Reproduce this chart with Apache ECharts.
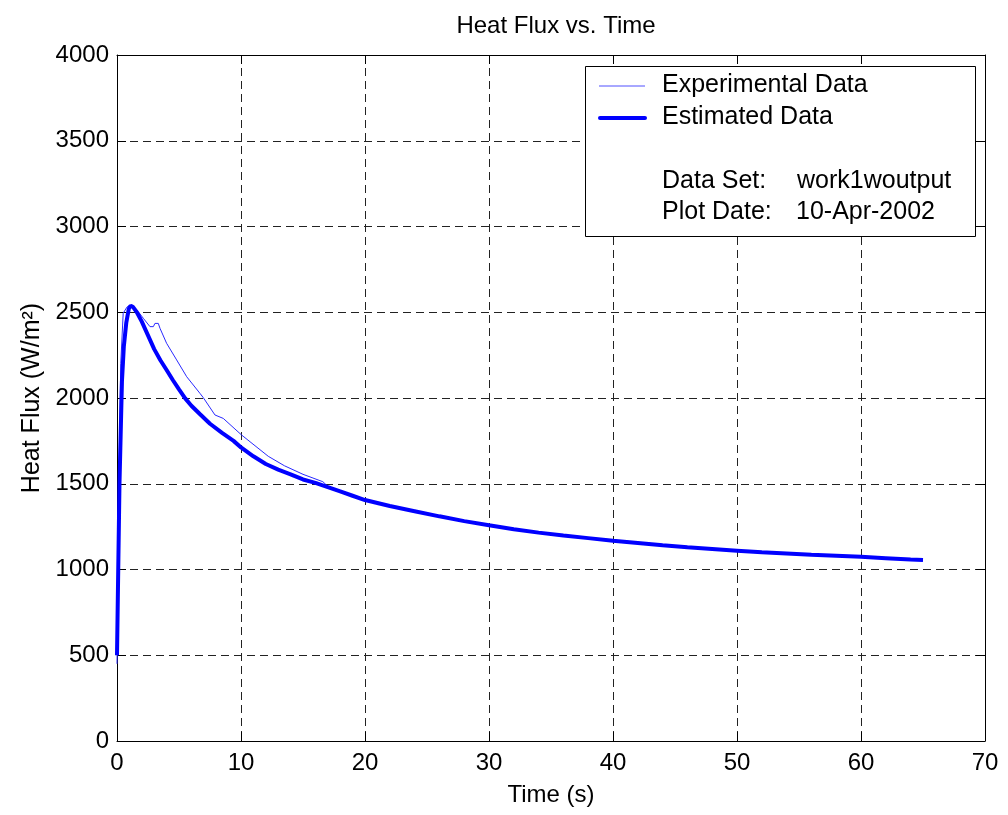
<!DOCTYPE html>
<html>
<head>
<meta charset="utf-8">
<script src="https://cdn.jsdelivr.net/npm/echarts@6/dist/echarts.min.js"></script>
<style>
  html, body { margin: 0; padding: 0; background: #fff; }
  #chart-container { width: 1008px; height: 815px; }
</style>
</head>
<body>
<div id="chart-container"></div>
<script>
// values
const expTime = [0, 0.15, 0.3, 0.5, 0.8, 1.05, 1.4, 1.72, 2.12, 2.66, 2.93, 3.06, 3.33, 3.47, 4.0, 4.81,
  5.62, 6.69, 6.96, 7.9, 8.57, 10.05, 12.2, 13.5, 15, 16.6, 17, 18, 20, 22, 24, 26, 28, 30, 35, 40, 45,
  50, 55, 60, 65];
const expFlux = [450, 1500, 2200, 2494, 2530, 2542, 2520, 2503, 2465, 2416, 2416, 2435, 2435, 2406, 2319, 2222,
  2124, 2027, 2002, 1901, 1881, 1784, 1660, 1605, 1555, 1512, 1485, 1458, 1408, 1372, 1338, 1312, 1280, 1256, 1205, 1170, 1135,
  1112, 1090, 1076, 1054];

const estTime = [0, 0.2, 0.4, 0.55, 0.75, 0.95, 1.1, 1.3, 1.6, 2.0, 2.5, 3.0, 3.5, 4.0, 4.5, 5.0, 5.5, 6.0,
  6.7, 7.5, 8.5, 9.4, 10, 11, 12, 13, 14, 15, 16, 17, 18, 19, 20, 22, 24, 26, 28, 30, 32, 34, 36, 38, 40,
  42, 44, 46, 48, 50, 52, 54, 56, 58, 60, 62, 64, 65];
const estFlux = [500, 1500, 2100, 2300, 2440, 2520, 2538, 2530, 2500, 2445, 2365, 2285, 2220, 2163, 2105, 2050, 1998, 1955,
  1905, 1850, 1795, 1750, 1712, 1660, 1615, 1582, 1555, 1525, 1505, 1480, 1455, 1430, 1405, 1370, 1340, 1310, 1282, 1258, 1235, 1215, 1198, 1183, 1168,
  1155, 1142, 1130, 1120, 1110, 1100, 1093, 1086, 1080, 1074, 1066, 1058, 1055];

const seriesNames = ['Experimental Data', 'Estimated Data'];
const dataSetName = 'work1woutput';
const plotDate = '10-Apr-2002';

const FONT = '"Liberation Sans", Arial, sans-serif';
const EXP_COLOR = '#2a2aff';
const EST_COLOR = '#0000ff';

const pairs = (xs, ys) => xs.map((x, i) => [x, ys[i]]);

const initChart = () => {
  const dom = document.getElementById('chart-container');
  return echarts.init(dom, null, { renderer: 'canvas' });
};

const gridDash = { type: [8, 5], color: '#222', width: 1 };

const baseX = {
  type: 'value', min: 0, max: 70, interval: 10,
  axisLine: { show: true, onZero: false, lineStyle: { color: '#000', width: 1 } },
  axisTick: { show: true, inside: true, length: 9, lineStyle: { color: '#000' } },
};
const baseY = {
  type: 'value', min: 0, max: 4000, interval: 500,
  axisLine: { show: true, onZero: false, lineStyle: { color: '#000', width: 1 } },
  axisTick: { show: true, inside: true, length: 9, lineStyle: { color: '#000' } },
};

// legend box drawn by hand (MATLAB style, with the extra info lines)
const legendText = (text, left, y) => ({
  type: 'text', z: 51, left: left, top: y - 13,
  style: { text: text, font: '25px ' + FONT, fill: '#000' },
});
const legendGraphics = [
  {
    type: 'rect', z: 50,
    shape: { x: 585.5, y: 66.5, width: 390, height: 170 },
    style: { fill: '#fff', stroke: '#000', lineWidth: 1 },
  },
  {
    type: 'line', z: 51,
    shape: { x1: 599, y1: 86, x2: 645, y2: 86 },
    style: { stroke: '#5050ff', lineWidth: 1 },
  },
  {
    type: 'line', z: 51,
    shape: { x1: 600, y1: 118, x2: 645, y2: 118 },
    style: { stroke: EST_COLOR, lineWidth: 4, lineCap: 'round' },
  },
  legendText(seriesNames[0], 662, 86),
  legendText(seriesNames[1], 662, 118),
  legendText('Data Set:', 662, 182),
  legendText(dataSetName, 797, 182),
  legendText('Plot Date:', 662, 213),
  legendText(plotDate, 796, 213),
];

const renderChart = (chart) => {
  chart.setOption({
    animation: false,
    backgroundColor: '#fff',
    textStyle: { fontFamily: FONT },
    title: {
      text: 'Heat Flux vs. Time',
      left: 551, top: 9, textAlign: 'center',
      textStyle: { fontFamily: FONT, fontSize: 24, fontWeight: 'normal', color: '#000' },
    },
    grid: { left: 117, right: 23, top: 55, bottom: 74, show: false },
    xAxis: [
      Object.assign({}, baseX, {
        position: 'bottom',
        name: 'Time (s)', nameLocation: 'middle', nameGap: 42,
        nameTextStyle: { fontFamily: FONT, fontSize: 24, color: '#000' },
        axisLabel: { fontFamily: FONT, fontSize: 24, color: '#000', margin: 10 },
        splitLine: { show: true, lineStyle: gridDash },
      }),
      Object.assign({}, baseX, {
        position: 'top',
        axisLabel: { show: false },
        splitLine: { show: false },
      }),
    ],
    yAxis: [
      Object.assign({}, baseY, {
        position: 'left',
        name: 'Heat Flux (W/m²)', nameLocation: 'middle', nameGap: 70,
        nameTextStyle: { fontFamily: FONT, fontSize: 25, color: '#000' },
        axisLabel: { fontFamily: FONT, fontSize: 24, color: '#000', margin: 8, formatter: (v) => String(v) },
        splitLine: { show: true, lineStyle: gridDash },
      }),
      Object.assign({}, baseY, {
        position: 'right',
        axisLabel: { show: false },
        splitLine: { show: false },
      }),
    ],
    graphic: legendGraphics,
    series: [
      {
        name: seriesNames[0], type: 'line', symbol: 'none',
        data: pairs(expTime, expFlux),
        lineStyle: { color: EXP_COLOR, width: 1 },
        z: 3,
      },
      {
        name: seriesNames[1], type: 'line', symbol: 'none',
        data: pairs(estTime, estFlux),
        lineStyle: { color: EST_COLOR, width: 4 },
        z: 4,
      },
    ],
  });
};

const chart = initChart();
renderChart(chart);
</script>
</body>
</html>
